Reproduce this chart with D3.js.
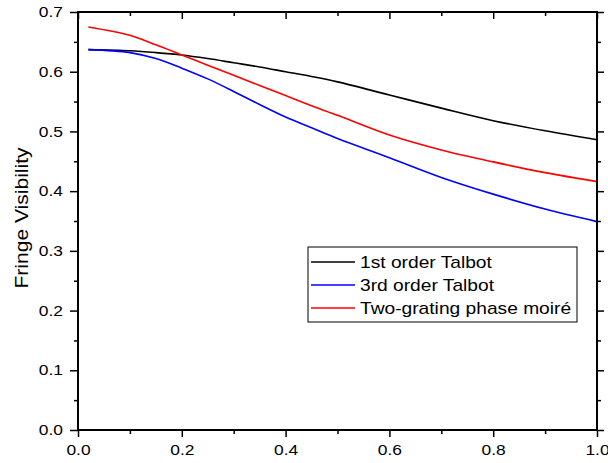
<!DOCTYPE html>
<html><head><meta charset="utf-8">
<script src="https://cdn.jsdelivr.net/npm/d3@7"></script>
<style>body{margin:0;background:#fff}svg{display:block}text{font-family:"Liberation Sans",Arial,sans-serif;fill:#000}</style>
</head><body><svg id="c" width="608" height="463"></svg>
<script>
const xVals = [0.02, 0.1, 0.15, 0.2, 0.25, 0.3, 0.35, 0.4, 0.45, 0.5, 0.6, 0.7, 0.8, 0.9, 1.0];
const firstOrder = [0.637, 0.635, 0.632, 0.628, 0.622, 0.615, 0.608, 0.600, 0.592, 0.583, 0.561, 0.539, 0.518, 0.501, 0.486];
const thirdOrder = [0.637, 0.632, 0.622, 0.606, 0.588, 0.567, 0.545, 0.524, 0.506, 0.488, 0.456, 0.423, 0.395, 0.370, 0.349];
const moire = [0.675, 0.661, 0.645, 0.628, 0.611, 0.594, 0.577, 0.560, 0.543, 0.527, 0.494, 0.469, 0.449, 0.431, 0.416];
const seriesNames = ["1st order Talbot", "3rd order Talbot", "Two-grating phase moiré"];
const seriesColors = ["#000000", "#0000ff", "#ff0000"];
const xTicks = [0.0, 0.2, 0.4, 0.6, 0.8, 1.0];
const yTicks = [0.0, 0.1, 0.2, 0.3, 0.4, 0.5, 0.6, 0.7];
const yLabel = "Fringe Visibility";

const svg = d3.select("#c");
const L = 78, R = 597, T = 12, B = 430;
const SX = 1.2;
const x = d3.scaleLinear().domain([0, 1]).range([L, R]);
const y = d3.scaleLinear().domain([0, 0.7]).range([B, T]);

const series = [firstOrder, thirdOrder, moire];
const line = d3.line().x((d, i) => x(xVals[i])).y(d => y(d)).curve(d3.curveCatmullRom.alpha(0.5));
series.forEach((s, k) => {
  svg.append("path").datum(s).attr("d", line).attr("fill", "none")
    .attr("stroke", seriesColors[k]).attr("stroke-width", 1.6);
});

const minorX = d3.range(0.1, 1.0, 0.2);
const minorY = d3.range(0.05, 0.7, 0.1);
function styleAxis(g) {
  g.select(".domain").remove();
  g.selectAll("line").attr("stroke", "#000").attr("stroke-width", 1.5);
  g.selectAll("text").style("font-size", "14.5px").style("font-family", '"Liberation Sans", Arial, sans-serif');
}
// bottom
svg.append("g").attr("transform", `translate(0,${B})`)
  .call(d3.axisBottom(x).tickValues(xTicks).tickFormat(d3.format(".1f")).tickSize(7).tickPadding(8)).call(styleAxis)
  .selectAll("text").attr("transform", `scale(${SX},1)`);
svg.append("g").attr("transform", `translate(0,${B})`)
  .call(d3.axisBottom(x).tickValues(minorX).tickFormat("").tickSize(4)).call(styleAxis);
// top (inward)
svg.append("g").attr("transform", `translate(0,${T})`)
  .call(d3.axisBottom(x).tickValues(xTicks).tickFormat("").tickSize(7)).call(styleAxis);
svg.append("g").attr("transform", `translate(0,${T})`)
  .call(d3.axisBottom(x).tickValues(minorX).tickFormat("").tickSize(4)).call(styleAxis);
// left
svg.append("g").attr("transform", `translate(${L},0)`)
  .call(d3.axisLeft(y).tickValues(yTicks).tickFormat(d3.format(".1f")).tickSize(8).tickPadding(7)).call(styleAxis)
  .selectAll("text").attr("x", -15 / SX).attr("transform", `scale(${SX},1)`);
svg.append("g").attr("transform", `translate(${L},0)`)
  .call(d3.axisLeft(y).tickValues(minorY).tickFormat("").tickSize(4)).call(styleAxis);
// right (outward)
svg.append("g").attr("transform", `translate(${R},0)`)
  .call(d3.axisRight(y).tickValues(yTicks).tickFormat("").tickSize(7)).call(styleAxis);
svg.append("g").attr("transform", `translate(${R},0)`)
  .call(d3.axisRight(y).tickValues(minorY).tickFormat("").tickSize(4)).call(styleAxis);

// frame
svg.append("rect").attr("x", L).attr("y", T).attr("width", R - L).attr("height", B - T)
  .attr("fill", "none").attr("stroke", "#000").attr("stroke-width", 2);

// y label
svg.append("text").attr("transform", `translate(28,218) rotate(-90) scale(1.17,1)`)
  .attr("text-anchor", "middle").style("font-size", "18px").text(yLabel);

// legend
const lg = svg.append("g");
lg.append("rect").attr("x", 308).attr("y", 247).attr("width", 269).attr("height", 75)
  .attr("fill", "#fff").attr("stroke", "#000").attr("stroke-width", 1);
seriesNames.forEach((n, k) => {
  const yy = 262 + k * 23;
  lg.append("line").attr("x1", 311).attr("x2", 355).attr("y1", yy).attr("y2", yy)
    .attr("stroke", seriesColors[k]).attr("stroke-width", 1.6);
  lg.append("text").attr("transform", `translate(360,${yy + 6}) scale(${SX},1)`)
    .style("font-size", "16px").text(n);
});
</script></body></html>
